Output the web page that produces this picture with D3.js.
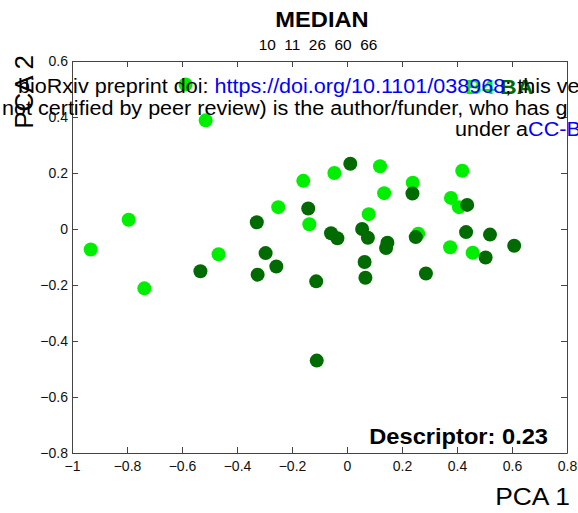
<!DOCTYPE html>
<html><head><meta charset="utf-8">
<script src="https://cdn.jsdelivr.net/npm/d3@7/dist/d3.min.js"></script>
<style>
html,body{margin:0;padding:0;background:#fff;overflow:hidden;}
text{font-family:"Liberation Sans",Arial,Helvetica,sans-serif;}
</style></head>
<body>
<svg id="c" width="578" height="513"></svg>
<script>
// ---- data ----
const seriesNames = ["B4", "BA"];
const b4X = [-0.932,-0.794,-0.737,-0.587,-0.514,-0.467,-0.250,-0.159,-0.137,-0.046,0.079,0.120,0.135,0.239,0.259,0.375,0.378,0.407,0.419,0.457];
const b4Y = [-0.073,0.033,-0.212,0.516,0.388,-0.090,0.078,0.172,0.017,0.200,0.053,0.224,0.128,0.165,-0.017,-0.065,0.111,0.078,0.208,-0.085];
const baX = [-0.533,-0.328,-0.296,-0.325,-0.257,-0.141,-0.112,-0.110,-0.058,-0.035,0.012,0.055,0.064,0.067,0.076,0.142,0.147,0.238,0.250,0.287,0.433,0.437,0.504,0.520,0.608];
const baY = [-0.151,0.024,-0.086,-0.163,-0.134,0.073,-0.187,-0.470,-0.015,-0.033,0.233,0.000,-0.118,-0.174,-0.031,-0.068,-0.049,0.127,-0.029,-0.159,-0.011,0.086,-0.102,-0.020,-0.060];
const xTicks = [-1,-0.8,-0.6,-0.4,-0.2,0,0.2,0.4,0.6,0.8];
const yTicks = [-0.8,-0.6,-0.4,-0.2,0,0.2,0.4,0.6];
const titleText = "MEDIAN";
const subtitleText = "10  11  26  60  66";
const descriptorText = "Descriptor: 0.23";

// ---- layout ----
const svg = d3.select("#c");
const L = 72, R = 567, T = 61, B = 453;
const x = d3.scaleLinear().domain([-1, 0.8]).range([L, R]);
const y = d3.scaleLinear().domain([-0.8, 0.6]).range([B, T]);
const fmt = d => (d < 0 ? "\u2212" : "") + String(Math.abs(d));
const axisColor = "#444";
const sx = 1.1; // horizontal stretch seen in the reference text

// points
const colors = ["#00ee00", "#006b00"];
const sets = [d3.zip(b4X, b4Y), d3.zip(baX, baY)];
sets.forEach((pts, i) => {
  svg.append("g").selectAll("circle").data(pts).join("circle")
    .attr("cx", d => x(d[0])).attr("cy", d => y(d[1])).attr("r", 7)
    .attr("fill", colors[i]);
});

// axes (MATLAB-style box with inward ticks)
const tl = 6;
const gB = svg.append("g").attr("transform", `translate(0,${B})`)
  .call(d3.axisBottom(x).tickValues(xTicks).tickSizeInner(-tl).tickSizeOuter(0).tickPadding(8).tickFormat(fmt));
const gT = svg.append("g").attr("transform", `translate(0,${T})`)
  .call(d3.axisTop(x).tickValues(xTicks).tickSizeInner(-tl).tickSizeOuter(0).tickFormat(""));
const gL = svg.append("g").attr("transform", `translate(${L},0)`)
  .call(d3.axisLeft(y).tickValues(yTicks).tickSizeInner(-tl).tickSizeOuter(0).tickPadding(4).tickFormat(fmt));
const gR = svg.append("g").attr("transform", `translate(${R},0)`)
  .call(d3.axisRight(y).tickValues(yTicks).tickSizeInner(-tl).tickSizeOuter(0).tickFormat(""));
[gB, gT, gL, gR].forEach(g => {
  g.selectAll("path,line").attr("stroke", axisColor).attr("stroke-width", 1);
  g.selectAll("text").attr("fill", "#111").style("font-size", "14px")
    .style("font-family", '"Liberation Sans",Arial,sans-serif');
});
gL.selectAll(".tick text").attr("dy", "0.32em");

function stext(px, py, anchor) {
  return svg.append("g").attr("transform", `translate(${px},${py}) scale(${sx},1)`)
    .append("text").attr("text-anchor", anchor || "start");
}

// titles
stext(322, 27, "middle").style("font-size", "21.5px").style("font-weight", "bold").text(titleText);
stext(318, 50, "middle").style("font-size", "14px").attr("xml:space", "preserve").text(subtitleText);

// axis labels
stext(570, 505, "end").style("font-size", "24px").text("PCA 1");
svg.append("text").attr("transform", "translate(33,92) rotate(-90)").attr("text-anchor", "middle")
  .style("font-size", "26px").text("PCA 2");

// descriptor
stext(548, 444, "end").style("font-size", "21.5px").style("font-weight", "bold").text(descriptorText);

// legend (text only)
const leg = stext(465, 94).style("font-size", "21px").style("font-weight", "bold");
leg.append("tspan").attr("fill", colors[0]).text(seriesNames[0]);
leg.append("tspan").attr("fill", colors[1]).attr("dx", 5).text(seriesNames[1]);

// preprint header overlay
const fs = "19.6px";
const l1 = stext(18, 93).style("font-size", fs);
l1.append("tspan").attr("fill", "#000").text("bioRxiv preprint doi: ");
l1.append("tspan").attr("fill", "#0000ff").text("https://doi.org/10.1101/038968");
l1.append("tspan").attr("fill", "#000").text("; this ve");
stext(2, 115).style("font-size", fs)
  .text("not certified by peer review) is the author/funder, who has g");
const l3 = stext(455, 136).style("font-size", fs);
l3.append("tspan").attr("fill", "#000").text("under a");
l3.append("tspan").attr("fill", "#0000ff").text("CC-B");
</script>
</body></html>
